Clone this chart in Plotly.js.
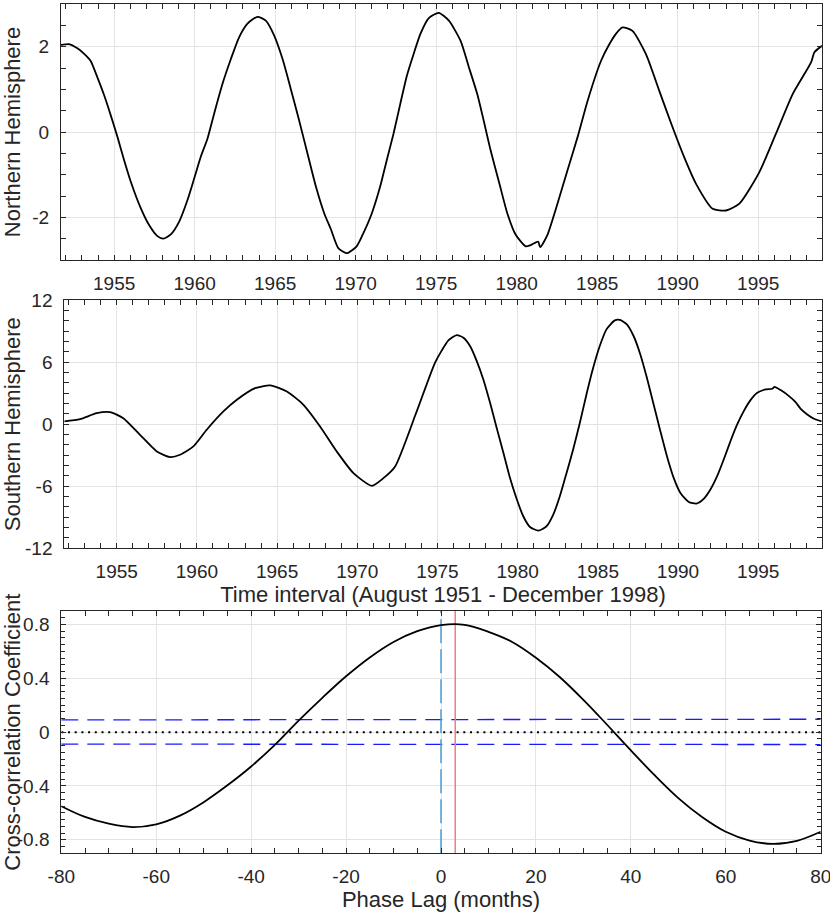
<!DOCTYPE html>
<html>
<head>
<meta charset="utf-8">
<script src="https://cdn.plot.ly/plotly-3.0.1.min.js"></script>
<style>html,body{margin:0;padding:0;background:#fff;}#chart{width:830px;height:915px;}</style>
</head>
<body>
<div id="chart"></div>
<script>
// ---- Northern Hemisphere series (year, value) ----
const northYears = [1951.70,1952.20,1952.72,1953.14,1953.55,1953.96,1954.38,1954.79,1955.21,1955.62,1956.04,1956.66,1957.17,1957.69,1958.06,1958.52,1959.04,1959.55,1959.97,1960.38,1960.80,1961.21,1961.73,1962.25,1962.76,1963.28,1963.90,1964.42,1964.94,1965.46,1965.97,1966.49,1967.01,1967.53,1968.05,1968.46,1968.92,1969.44,1970.06,1970.48,1971.00,1971.52,1971.93,1972.35,1972.77,1973.18,1973.60,1974.02,1974.54,1975.16,1975.79,1976.51,1977.03,1977.55,1977.96,1978.38,1978.90,1979.42,1979.94,1980.56,1980.87,1981.33,1981.46,1981.91,1982.54,1983.16,1983.78,1984.41,1985.24,1985.70,1986.16,1986.57,1987.19,1988.02,1988.85,1989.68,1990.40,1991.13,1992.17,1993.00,1993.83,1995.07,1996.10,1997.14,1998.28,1998.49,1998.96];
const northValues = [2.04,2.06,1.96,1.83,1.66,1.28,0.86,0.39,-0.12,-0.66,-1.17,-1.79,-2.18,-2.44,-2.50,-2.40,-2.10,-1.60,-1.09,-0.58,-0.15,0.43,1.13,1.71,2.22,2.54,2.70,2.61,2.26,1.71,1.01,0.27,-0.51,-1.28,-1.91,-2.28,-2.72,-2.84,-2.68,-2.37,-1.91,-1.28,-0.66,-0.04,0.66,1.32,1.83,2.30,2.67,2.79,2.61,2.14,1.52,0.89,0.25,-0.43,-1.17,-1.91,-2.41,-2.68,-2.65,-2.57,-2.70,-2.41,-1.67,-0.89,-0.12,0.74,1.67,2.02,2.30,2.45,2.37,1.83,0.97,0.11,-0.59,-1.21,-1.80,-1.84,-1.68,-0.94,-0.04,0.89,1.63,1.87,2.02];

// ---- Southern Hemisphere series (year, value) ----
const southYears = [1951.73,1952.71,1953.75,1954.58,1955.41,1956.45,1957.50,1958.33,1958.95,1959.78,1960.61,1961.65,1962.49,1963.63,1964.57,1965.61,1966.64,1967.68,1968.72,1969.76,1970.91,1971.63,1972.36,1973.61,1974.02,1974.44,1974.85,1975.27,1975.68,1976.20,1976.62,1977.03,1977.45,1977.86,1978.28,1978.69,1979.11,1979.52,1979.94,1980.35,1980.77,1981.29,1981.80,1982.22,1982.63,1983.05,1983.46,1983.88,1984.29,1984.71,1985.12,1985.54,1986.06,1986.37,1986.81,1987.23,1987.65,1988.06,1988.48,1988.90,1989.31,1989.73,1990.15,1990.67,1991.15,1991.60,1992.02,1992.44,1992.85,1993.27,1993.69,1994.10,1994.52,1994.94,1995.46,1995.88,1996.02,1996.40,1996.92,1997.33,1997.65,1998.06,1998.48,1998.96];
const southValues = [0.26,0.48,1.06,1.16,0.58,-1.03,-2.64,-3.19,-2.96,-2.15,-0.54,1.23,2.36,3.48,3.74,3.16,1.87,-0.22,-2.64,-4.73,-5.96,-5.22,-4.09,0.84,2.55,4.32,5.94,7.13,8.10,8.61,8.35,7.55,6.10,4.32,2.06,-0.35,-2.77,-5.19,-7.23,-8.90,-9.94,-10.29,-9.87,-8.74,-6.97,-4.71,-2.45,0.13,2.87,5.45,7.55,9.16,10.03,10.08,9.65,8.52,6.74,4.48,1.90,-0.68,-3.10,-5.19,-6.65,-7.52,-7.68,-7.23,-6.32,-5.03,-3.42,-1.65,-0.03,1.26,2.32,3.03,3.35,3.42,3.61,3.29,2.71,2.13,1.48,0.94,0.52,0.26];

// ---- Cross-correlation vs phase lag (months) ----
const lags = [-80,-75,-70,-65,-60,-55,-50,-45,-40,-35,-30,-25,-20,-15,-10,-5,0,5,10,15,20,25,30,35,40,45,50,55,60,65,70,75,80];
const xcorr = [-0.55,-0.63,-0.68,-0.705,-0.685,-0.62,-0.52,-0.395,-0.255,-0.095,0.085,0.255,0.415,0.555,0.67,0.75,0.795,0.797,0.745,0.67,0.553,0.41,0.24,0.055,-0.135,-0.32,-0.49,-0.63,-0.74,-0.805,-0.83,-0.807,-0.74];
const confLags = [-80, 80];
const confUpper = [0.091, 0.096];
const confLower = [-0.089, -0.092];
const zeroLine = [0, 0];
const zeroLagX = [0, 0];
const peakLagX = [3, 3];
const vertSpan = [-0.9, 0.9];

// ---- Tick labels ----
const yearTicks = [1955,1960,1965,1970,1975,1980,1985,1990,1995];
const yearTickText = ['1955','1960','1965','1970','1975','1980','1985','1990','1995'];
const northTicks = [-2, 0, 2];
const northTickText = ['-2','0','2'];
const southTicks = [-12, -6, 0, 6, 12];
const southTickText = ['-12', '-6', '0', '6', '12'];
const lagTicks = [-80,-60,-40,-20,0,20,40,60,80];
const lagTickText = ['-80','-60','-40','-20','0','20','40','60','80'];
const corrTicks = [-0.8,-0.4,0,0.4,0.8];
const corrTickText = ['-0.8','-0.4','0','0.4','0.8'];

const W = 830, H = 915;
const fx = p => p / W;
const fy = p => 1 - p / H;
const FONT = 'Liberation Sans, Arial, Helvetica, sans-serif';
const AX = '#262626';

function axisBase(extra) {
  return Object.assign({
    showline: true, linecolor: AX, linewidth: 1, mirror: 'allticks',
    ticks: 'inside', ticklen: 5, tickwidth: 1, tickcolor: AX,
    showgrid: true, gridcolor: '#e3e3e3', gridwidth: 1, zeroline: false,
    tickfont: {family: FONT, size: 19, color: AX},
    ticklabeloverflow: 'allow',
    fixedrange: true
  }, extra);
}

const lineBlack = {color: '#000', width: 1.8, shape: 'spline', smoothing: 0.6};

const traces = [
  {x: northYears, y: northValues, xaxis: 'x', yaxis: 'y', mode: 'lines', line: lineBlack, hoverinfo: 'skip'},
  {x: southYears, y: southValues, xaxis: 'x2', yaxis: 'y2', mode: 'lines', line: lineBlack, hoverinfo: 'skip'},
  {x: confLags, y: zeroLine, xaxis: 'x3', yaxis: 'y3', mode: 'lines', line: {color: '#000', width: 2, dash: '2px,4.7px'}, hoverinfo: 'skip'},
  {x: confLags, y: confUpper, xaxis: 'x3', yaxis: 'y3', mode: 'lines', line: {color: '#1a1aff', width: 1.3, dash: '17px,9px'}, hoverinfo: 'skip'},
  {x: confLags, y: confLower, xaxis: 'x3', yaxis: 'y3', mode: 'lines', line: {color: '#1a1aff', width: 1.3, dash: '17px,9px'}, hoverinfo: 'skip'},
  {x: zeroLagX, y: vertSpan, xaxis: 'x3', yaxis: 'y3', mode: 'lines', line: {color: '#4d9ad6', width: 1.5, dash: '24px,6px'}, hoverinfo: 'skip'},
  {x: peakLagX, y: vertSpan, xaxis: 'x3', yaxis: 'y3', mode: 'lines', line: {color: '#f77b7b', width: 1.5}, hoverinfo: 'skip'},
  {x: lags, y: xcorr, xaxis: 'x3', yaxis: 'y3', mode: 'lines', line: {color: '#000', width: 1.8, shape: 'spline', smoothing: 1}, hoverinfo: 'skip'}
];

const titleFont = {family: FONT, size: 22, color: AX};

const layout = {
  width: W, height: H,
  margin: {l: 0, r: 0, t: 0, b: 0},
  paper_bgcolor: '#fff', plot_bgcolor: '#fff',
  showlegend: false,
  xaxis: axisBase({domain: [fx(61), fx(822)], range: [1951.70, 1998.96], anchor: 'y',
    tickvals: yearTicks, ticktext: yearTickText, ticklabelstandoff: 6,
    minor: {ticks: 'inside', ticklen: 5, tickcolor: AX, dtick: 1, tick0: 1950, showgrid: false}}),
  yaxis: axisBase({domain: [fy(260), fy(4)], range: [-3, 3], anchor: 'x',
    tickvals: northTicks, ticktext: northTickText, ticklabelstandoff: 7,
    minor: {ticks: 'inside', ticklen: 5, tickcolor: AX, dtick: 0.5, tick0: 0, showgrid: false},
    title: {text: 'Northern Hemisphere', font: titleFont, standoff: 10}}),
  xaxis2: axisBase({domain: [fx(64.3), fx(821.7)], range: [1951.73, 1998.96], anchor: 'y2',
    tickvals: yearTicks, ticktext: yearTickText, ticklabelstandoff: 6,
    minor: {ticks: 'inside', ticklen: 5, tickcolor: AX, dtick: 1, tick0: 1950, showgrid: false},
    title: {text: 'Time interval (August 1951 - December 1998)', font: titleFont, standoff: 4}}),
  yaxis2: axisBase({domain: [fy(548.3), fy(300)], range: [-12, 12], anchor: 'x2',
    tickvals: southTicks, ticktext: southTickText, ticklabelstandoff: 7,
    minor: {ticks: 'inside', ticklen: 5, tickcolor: AX, dtick: 1, tick0: 0, showgrid: false},
    title: {text: 'Southern Hemisphere', font: titleFont, standoff: 8}}),
  xaxis3: axisBase({domain: [fx(61.3), fx(820.7)], range: [-80, 80], anchor: 'y3',
    tickvals: lagTicks, ticktext: lagTickText, ticklabelstandoff: 6,
    minor: {ticks: 'inside', ticklen: 5, tickcolor: AX, dtick: 5, tick0: 0, showgrid: false},
    title: {text: 'Phase Lag (months)', font: titleFont, standoff: 4}}),
  yaxis3: axisBase({domain: [fy(853.3), fy(611)], range: [-0.9, 0.9], anchor: 'x3',
    tickvals: corrTicks, ticktext: corrTickText, ticklabelstandoff: 7,
    minor: {ticks: 'inside', ticklen: 4, tickcolor: AX, dtick: 0.05, tick0: 0, showgrid: false},
    title: {text: 'Cross-correlation Coefficient', font: titleFont, standoff: 0}})
};

Plotly.newPlot('chart', traces, layout, {displayModeBar: false, staticPlot: true});
</script>
</body>
</html>
